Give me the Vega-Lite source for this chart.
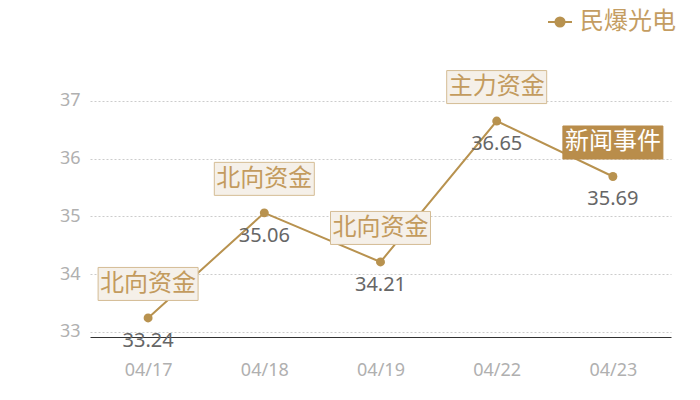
{
  "$schema": "https://vega.github.io/schema/vega-lite/v6.json",
  "width": 581,
  "height": 265,
  "autosize": {"type": "none"},
  "padding": {"left": 90, "top": 72, "right": 29, "bottom": 63},
  "background": "white",
  "config": {
    "view": {"stroke": null},
    "font": "Noto Sans CJK SC"
  },
  "data": {
    "values": [
      {"date": "04/17", "price": 33.24, "series": "民爆光电", "tag": "北向资金", "kind": "fund"},
      {"date": "04/18", "price": 35.06, "series": "民爆光电", "tag": "北向资金", "kind": "fund"},
      {"date": "04/19", "price": 34.21, "series": "民爆光电", "tag": "北向资金", "kind": "fund"},
      {"date": "04/22", "price": 36.65, "series": "民爆光电", "tag": "主力资金", "kind": "fund"},
      {"date": "04/23", "price": 35.69, "series": "民爆光电", "tag": "新闻事件", "kind": "news"}
    ]
  },
  "encoding": {
    "x": {
      "field": "date",
      "type": "ordinal",
      "scale": {"type": "point", "padding": 0.5},
      "axis": {
        "title": null,
        "labelAngle": 0,
        "ticks": false,
        "domainColor": "#333333",
        "domainWidth": 1,
        "labelColor": "#b0b0b0",
        "labelFontSize": 18,
        "labelPadding": 24,
        "labelFont": "Noto Sans"
      }
    },
    "y": {
      "field": "price",
      "type": "quantitative",
      "scale": {"domain": [32.91, 37.5], "nice": false, "zero": false},
      "axis": {
        "title": null,
        "values": [33, 34, 35, 36, 37],
        "domain": false,
        "ticks": false,
        "labelColor": "#b0b0b0",
        "labelFontSize": 18,
        "labelPadding": 10,
        "labelFont": "Noto Sans",
        "gridColor": "#cccccc",
        "gridDash": [2, 2]
      }
    }
  },
  "layer": [
    {
      "mark": {"type": "line", "color": "#b8924f", "strokeWidth": 2},
      "encoding": {
        "color": {
          "field": "series",
          "type": "nominal",
          "scale": {"range": ["#b8924f"]},
          "legend": {
            "title": null,
            "orient": "none",
            "legendX": 457,
            "legendY": -63,
            "padding": 0,
            "symbolType": "M-1,0H1M-0.38,0A0.38,0.38 0 1,0 0.38,0A0.38,0.38 0 1,0 -0.38,0Z",
            "symbolSize": 576,
            "symbolStrokeWidth": 2,
            "symbolFillColor": "#b8924f",
            "symbolStrokeColor": "#b8924f",
            "labelFontSize": 24,
            "labelColor": "#c49d62",
            "labelOffset": 7
          }
        }
      }
    },
    {
      "mark": {"type": "point", "filled": true, "size": 80, "color": "#b8924f", "opacity": 1}
    },
    {
      "mark": {"type": "text", "dy": 23, "fontSize": 20, "color": "#666666", "font": "Noto Sans"},
      "encoding": {"text": {"field": "price", "type": "quantitative", "format": ".2f"}}
    },
    {
      "mark": {
        "type": "point",
        "shape": "M-1,-0.33H1V0.33H-1Z",
        "size": 10000,
        "yOffset": -34,
        "filled": true,
        "strokeWidth": 1,
        "opacity": 1
      },
      "encoding": {
        "fill": {
          "field": "kind",
          "type": "nominal",
          "scale": {"domain": ["fund", "news"], "range": ["#f5f0e9", "#b98d4b"]},
          "legend": null
        },
        "stroke": {
          "field": "kind",
          "type": "nominal",
          "scale": {"domain": ["fund", "news"], "range": ["#d4bc94", "#b98d4b"]},
          "legend": null
        }
      }
    },
    {
      "mark": {"type": "text", "dy": -34, "fontSize": 24, "baseline": "middle"},
      "encoding": {
        "text": {"field": "tag"},
        "color": {
          "field": "kind",
          "type": "nominal",
          "scale": {"domain": ["fund", "news"], "range": ["#c39b5e", "#ffffff"]},
          "legend": null
        }
      }
    }
  ],
  "resolve": {"scale": {"color": "independent"}}
}
